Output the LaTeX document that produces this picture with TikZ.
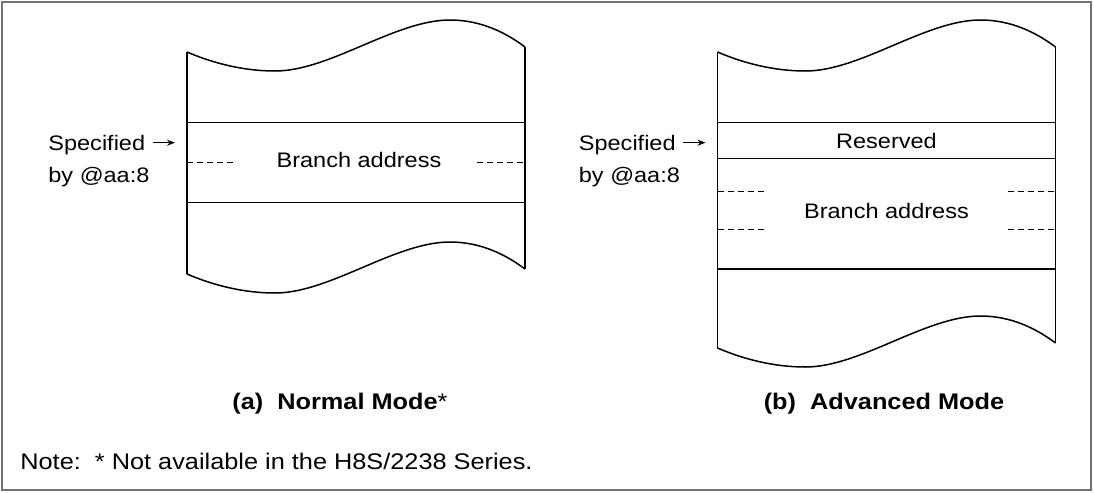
\documentclass[tikz,border=0pt]{standalone}
\usepackage{fontspec}
\setmainfont{Liberation Sans}[FakeStretch=1.12]
\usetikzlibrary{arrows.meta}

\begin{document}
\begin{tikzpicture}[x=0.5pt, y=-0.5pt,
    every node/.style={font=\fontsize{10.5}{12}\selectfont, inner sep=0pt},
    caption/.style={font=\fontsize{11.3}{13}\selectfont\bfseries},
    frameline/.style={draw=black!55, line width=0.8pt},
    memline/.style={line width=0.75pt},
    cutline/.style={line width=0.45pt, dash pattern=on 3pt off 2pt},
    ptr/.style={-{Stealth[length=4pt,width=3pt]}, line width=0.5pt},
    pics/memwave/.style={code={
      \draw[memline] (0,0) .. controls (28,12) and (58,19) .. (88,19)
        .. controls (143,19) and (208,-32) .. (263,-32)
        .. controls (293,-32) and (318,-20) .. (338,-5);}}]
  \useasboundingbox (0,0) rectangle (1094,493);
  \draw[frameline] (2,2) rectangle (1091,490);

  \begin{scope}[shift={(187,52)}]
    \pic {memwave};
    \pic at (0,222) {memwave};
    \draw[memline] (0,0) -- (0,222) (338,-5) -- (338,217);
    \draw[memline] (0,70.7) -- (338,70.7) (0,150.3) -- (338,150.3);
    \draw[cutline] (0,110.3) -- (46,110.3) (290,110.3) -- (338,110.3);
    \node (addrA) at (172,108) {Branch address};
  \end{scope}
  \node[anchor=base west] (specA) at (48,150) {Specified};
  \node[anchor=base west] (byA) at (48,182) {by @aa:8};
  \coordinate (tgtA) at (175,142.7);
  \draw[ptr, shorten <=3.5pt] (tgtA -| specA.east) -- (tgtA);

  \begin{scope}[shift={(717.5,52)}]
    \pic {memwave};
    \pic at (0,296) {memwave};
    \draw[memline] (0,0) -- (0,296) (338,-5) -- (338,291);
    \draw[memline] (0,70.7) -- (338,70.7) (0,106.3) -- (338,106.3) (0,217) -- (338,217);
    \draw[cutline] (0,139.3) -- (47,139.3) (290,139.3) -- (338,139.3);
    \draw[cutline] (0,177) -- (47,177) (290,177) -- (338,177);
    \node (rsvB) at (169,88.7) {Reserved};
    \node (addrB) at (169,158.5) {Branch address};
  \end{scope}
  \node[anchor=base west] (specB) at (578.5,150) {Specified};
  \node[anchor=base west] (byB) at (578.5,182) {by @aa:8};
  \coordinate (tgtB) at (705.5,142.7);
  \draw[ptr, shorten <=3.5pt] (tgtB -| specB.east) -- (tgtB);

  \node[caption] (capA) at (340,404) {(a)~~Normal Mode{\mdseries *}};
  \node[caption] (capB) at (884,404) {(b)~~Advanced Mode};
  \node[anchor=base west, font=\fontsize{11.3}{13}\selectfont] (note) at (20,469) {Note:~~* Not available in the H8S/2238 Series.};
\end{tikzpicture}
\end{document}
